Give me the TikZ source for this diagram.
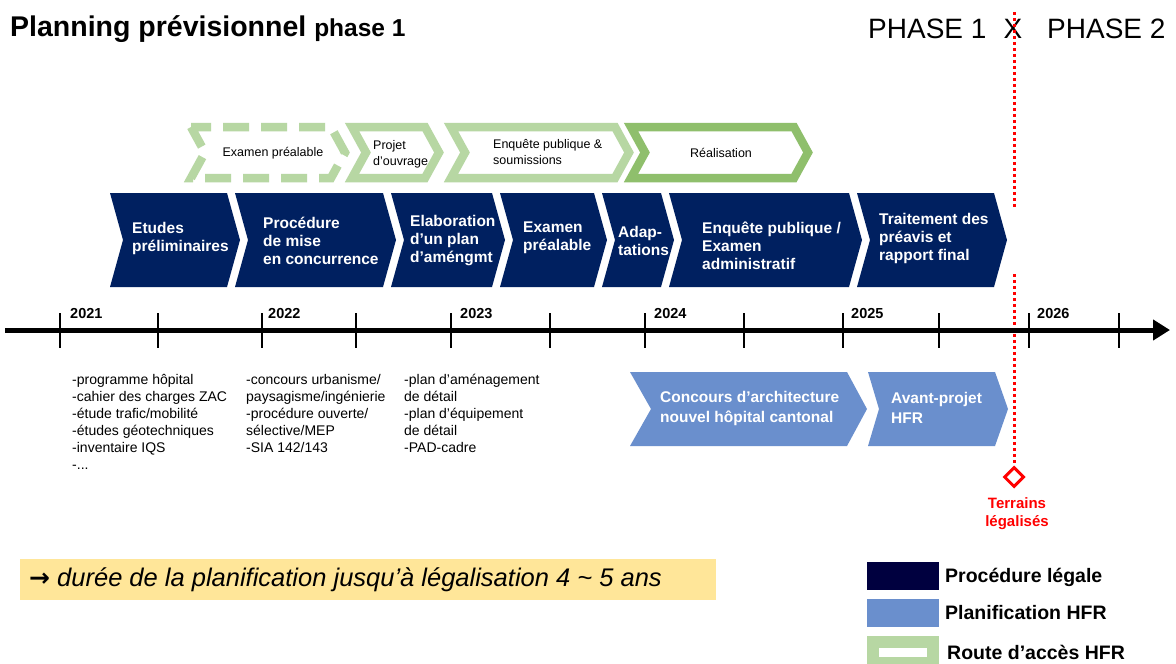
\documentclass[tikz,border=0pt]{standalone}
\usepackage{fontspec}
\setmainfont{Liberation Sans}
\newfontfamily\dejavu{DejaVu Sans}
\usetikzlibrary{arrows.meta,shapes.geometric}
\definecolor{navy}{HTML}{002060}
\definecolor{legnavy}{HTML}{00003F}
\definecolor{hfrblue}{HTML}{6A8FCD}
\definecolor{lgreen}{HTML}{B7D7A3}
\definecolor{dgreen}{HTML}{8FBF6C}
\definecolor{ybox}{HTML}{FFE699}
\definecolor{tred}{HTML}{FF0000}
\newcommand\fs[2]{\fontsize{#1}{#2}\selectfont}
% navy chevron: #1 left x, #2 tip x
\newcommand\navychev[2]{\fill[navy] (#1,193) -- ({#2-13},193) -- (#2,240) -- ({#2-13},287) -- (#1,287) -- ({#1+13},240) -- cycle;}
% green chevron outline (centre line): #1 style, #2 left x, #3 tip x
\newcommand\greenchev[3]{\draw[#1] (#2,127) -- ({#3-14},127) -- (#3,152.5) -- ({#3-14},178) -- (#2,178) -- ({#2+14},152.5) -- cycle;}
\begin{document}
\begin{tikzpicture}[x=1pt,y=-1pt,
  navytxt/.style={text=white, font=\bfseries\fs{15.5}{18}, align=left, anchor=west, inner sep=0},
  bluetxt/.style={text=white, font=\bfseries\fs{15.5}{20}, align=left, anchor=west, inner sep=0},
  greentxt/.style={text=black, font=\fs{12.5}{16}, align=left, inner sep=0},
  greenline/.style={line width=8.5, fill=white, line join=miter},
  yearlbl/.style={font=\bfseries\fs{14.5}{16}, anchor=base west, inner sep=0},
  listtxt/.style={font=\fs{14}{17}, align=left, anchor=north west, inner sep=0},
  legbox/.style={minimum width=72, minimum height=28, inner sep=0, anchor=north west},
  legtxt/.style={font=\bfseries\fs{19.5}{22}, anchor=west, inner sep=0},
  redline/.style={tred, line width=3, dash pattern=on 3pt off 3pt},
  tick/.style={line width=2.3}]
\useasboundingbox (0,0) rectangle (1176,664);
\fill[white] (0,0) rectangle (1176,664);

% title and phases
\node[anchor=base west, inner sep=0] (title) at (10,36) {\bfseries\fs{28.5}{30}Planning prévisionnel \fs{24.5}{26}phase 1};
\node[anchor=base west, inner sep=0, font=\fs{28}{30}] (ph1) at (868,38) {PHASE 1};
\node[anchor=base, inner sep=0, font=\fs{28}{30}] (phx) at (1013,38) {X};
\node[anchor=base west, inner sep=0, font=\fs{28}{30}] (ph2) at (1047,38) {PHASE 2};

% red dotted phase separator
\coordinate (rl0) at (1014,12);
\coordinate (rl1) at (1014,208);
\coordinate (rl2) at (1014,274);
\node[diamond, draw=tred, line width=3, fill=white, minimum width=20, minimum height=20, inner sep=0] (dia) at (1014,477) {};
\draw[redline] (rl0) -- (rl1);
\draw[redline] (rl2) -- (dia.north);
\node[text=tred, font=\bfseries\fs{15}{18}, align=center, inner sep=0] (terr) at (1017,514) {Terrains\\légalisés};

% green chevrons (route d'accès)
\greenchev{greenline, draw=lgreen, dash pattern=on 26pt off 12pt, dash phase=6pt}{191}{345}
\greenchev{greenline, draw=lgreen}{352}{439}
\greenchev{greenline, draw=lgreen}{451}{629}
\greenchev{greenline, draw=dgreen}{631}{808}
\node[greentxt] (g1) at (273,153) {Examen préalable};
\node[greentxt, anchor=west] (g2) at (373,154) {Projet\\d’ouvrage};
\node[greentxt, anchor=west] (g3) at (493,152) {Enquête publique \&\\soumissions};
\node[greentxt] (g4) at (721,153) {Réalisation};

% navy chevrons (procédure légale)
\navychev{110}{240}
\navychev{235}{396}
\navychev{391}{505}
\navychev{500}{607}
\navychev{602}{674}
\navychev{669}{862}
\navychev{857}{1007}
\node[navytxt] (n1) at (132,238) {Etudes\\préliminaires};
\node[navytxt] (n2) at (263,241) {Procédure\\de mise\\en concurrence};
\node[navytxt] (n3) at (410,241) {Elaboration\\d’un plan\\d’améngmt};
\node[navytxt] (n4) at (523,238) {Examen\\préalable};
\node[navytxt] (n5) at (618,241) {Adap-\\tations};
\node[navytxt] (n6) at (702,246) {Enquête publique /\\Examen\\administratif};
\node[navytxt] (n7) at (879,238) {Traitement des\\préavis et\\rapport final};

% timeline
\coordinate (tl0) at (5,330);
\coordinate (tl1) at (1170,330);
\draw[line width=5, -{Triangle[length=17pt,width=20pt]}] (tl0) -- (tl1);
\foreach \x in {60,158,262,356,451,550,645,744,843,939,1029,1119}
  \draw[tick] (\x,313) -- (\x,348);
\node[yearlbl] (y21) at (70,318) {2021};
\node[yearlbl] (y22) at (268,318) {2022};
\node[yearlbl] (y23) at (460,318) {2023};
\node[yearlbl] (y24) at (654,318) {2024};
\node[yearlbl] (y25) at (851,318) {2025};
\node[yearlbl] (y26) at (1037,318) {2026};

% lists
\node[listtxt] (l1) at (72,374) {-programme hôpital\\-cahier des charges ZAC\\-étude trafic/mobilité\\-études géotechniques\\-inventaire IQS\\-...};
\node[listtxt] (l2) at (246,374) {-concours urbanisme/\\paysagisme/ingénierie\\-procédure ouverte/\\sélective/MEP\\-SIA 142/143};
\node[listtxt] (l3) at (404,374) {-plan d’aménagement\\de détail\\-plan d’équipement\\de détail\\-PAD-cadre};

% HFR planning chevrons
\fill[hfrblue] (630,372) -- (847,372) -- (867,409) -- (847,446) -- (630,446) -- (651,409) -- cycle;
\fill[hfrblue] (868,372) -- (995,372) -- (1008,409) -- (995,446) -- (868,446) -- (879,409) -- cycle;
\node[bluetxt] (b1) at (660,408) {Concours d’architecture\\nouvel hôpital cantonal};
\node[bluetxt] (b2) at (891,408) {Avant-projet\\HFR};

% duration box
\node[fill=ybox, minimum width=696, minimum height=41, inner sep=0, anchor=north west] (durbox) at (20,559) {};
\node[anchor=west, inner sep=0, font=\fs{25.5}{28}\itshape] (dur) at (29,580) {{\dejavu\upshape\bfseries\fs{25}{28}→} durée de la planification jusqu’à légalisation 4 \char`\~{} 5 ans};

% legend
\node[legbox, fill=legnavy] (leg1) at (867,562) {};
\node[legbox, fill=hfrblue] (leg2) at (867,599) {};
\node[legbox, fill=lgreen] (leg3) at (867,636) {};
\node[fill=white, minimum width=48, minimum height=9, inner sep=0] (leg3in) at (903,652.5) {};
\node[legtxt] (lt1) at (945,577) {Procédure légale};
\node[legtxt] (lt2) at (945,613) {Planification HFR};
\node[legtxt] (lt3) at (947,652) {Route d’accès HFR};
\end{tikzpicture}
\end{document}
